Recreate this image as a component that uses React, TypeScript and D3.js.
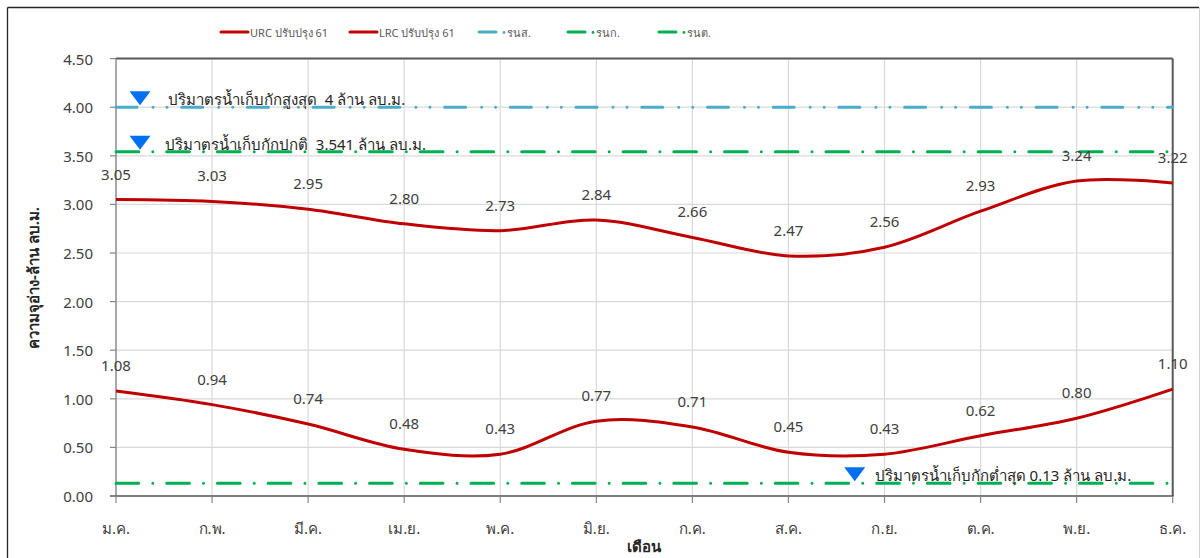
import React from "react";
import * as d3 from "d3";

const months = ["ม.ค.", "ก.พ.", "มี.ค.", "เม.ย.", "พ.ค.", "มิ.ย.", "ก.ค.", "ส.ค.", "ก.ย.", "ต.ค.", "พ.ย.", "ธ.ค."];
const urc = [3.05, 3.03, 2.95, 2.8, 2.73, 2.84, 2.66, 2.47, 2.56, 2.93, 3.24, 3.22];
const lrc = [1.08, 0.94, 0.74, 0.48, 0.43, 0.77, 0.71, 0.45, 0.43, 0.62, 0.8, 1.1];
const yTicks = [0, 0.5, 1, 1.5, 2, 2.5, 3, 3.5, 4, 4.5];
const maxLevel = 4;
const normalLevel = 3.541;
const minLevel = 0.13;
const legendLabels = ["URC ปรับปรุง 61", "LRC ปรับปรุง 61", "รนส.", "รนก.", "รนต."];
const annotations = [
  { value: maxLevel, text: "ปริมาตรน้ำเก็บกักสูงสุด  4 ล้าน ลบ.ม.", month: 0.25, gap: 28 },
  { value: normalLevel, text: "ปริมาตรน้ำเก็บกักปกติ  3.541 ล้าน ลบ.ม.", month: 0.25, gap: 25 },
  { value: minLevel, text: "ปริมาตรน้ำเก็บกักต่ำสุด 0.13 ล้าน ลบ.ม.", month: 7.69, gap: 20 },
];

const FONT = "Tahoma, 'Noto Sans', 'DejaVu Sans', sans-serif";

export default function App() {
  const left = 116, right = 1172.7, top = 58.6, bottom = 496;
  const x = d3.scaleLinear().domain([0, months.length - 1]).range([left, right]);
  const y = d3.scaleLinear().domain([0, 4.5]).range([bottom, top]);
  const line = d3
    .line<number>()
    .x((_, i) => x(i))
    .y((d) => y(d))
    .curve(d3.curveCatmullRom.alpha(0.5));

  const red = "#C00000";
  const blue = "#4BACC6";
  const green = "#00B050";
  const blueDash = "21 16 0.01 14 0.01 14.7";
  const greenDash = "22.7 14.1 0.01 13.9";

  const refLines = [
    { v: maxLevel, color: blue, dash: blueDash },
    { v: normalLevel, color: green, dash: greenDash },
    { v: minLevel, color: green, dash: greenDash },
  ];

  const legendItems = [
    { x: 221, color: red, type: "solid" },
    { x: 350, color: red, type: "solid" },
    { x: 479, color: blue, type: "dash" },
    { x: 568, color: green, type: "dash" },
    { x: 659, color: green, type: "dash" },
  ];

  return (
    <svg
      width={1200}
      height={558}
      style={{ position: "absolute", left: 0, top: 0, background: "#fff" }}
      fontFamily={FONT}
    >
      <rect x={0} y={0} width={1200} height={558} fill="#fff" />
      {/* outer frame */}
      <line x1={7.5} y1={7.5} x2={1199} y2={7.5} stroke="#262626" strokeWidth={1.3} />
      <line x1={7.5} y1={7.5} x2={7.5} y2={558} stroke="#262626" strokeWidth={1.3} />
      <line x1={1199.5} y1={7.5} x2={1199.5} y2={558} stroke="#d0d0d0" strokeWidth={1} />

      {/* gridlines */}
      {yTicks.map((t) => (
        <line key={"h" + t} x1={left} x2={right} y1={y(t)} y2={y(t)} stroke="#d9d9d9" strokeWidth={1.2} />
      ))}
      {months.map((m, i) => (
        <line key={"v" + i} x1={x(i)} x2={x(i)} y1={top} y2={bottom} stroke="#d9d9d9" strokeWidth={1.2} />
      ))}

      {/* plot border */}
      <line x1={left} x2={right} y1={top} y2={top} stroke="#595959" strokeWidth={2} />
      <line x1={right} x2={right} y1={top} y2={bottom} stroke="#595959" strokeWidth={2} />
      <line x1={left} x2={left} y1={top} y2={bottom + 0.5} stroke="#868686" strokeWidth={1.3} />
      <line x1={left - 6} x2={right + 1} y1={bottom} y2={bottom} stroke="#595959" strokeWidth={1.5} />

      {/* y ticks */}
      {yTicks.map((t) => (
        <g key={"yt" + t}>
          <line x1={left - 6} x2={left} y1={y(t)} y2={y(t)} stroke="#868686" strokeWidth={1.2} />
          <text x={93} y={y(t)} textAnchor="end" dominantBaseline="central" fontSize={15} fill="#404040">
            {d3.format(".2f")(t)}
          </text>
        </g>
      ))}
      {/* x ticks */}
      {months.map((m, i) => (
        <g key={"xt" + i}>
          <line x1={x(i)} x2={x(i)} y1={bottom} y2={bottom + 7} stroke="#868686" strokeWidth={1.2} />
          <text x={x(i)} y={528} textAnchor="middle" dominantBaseline="central" fontSize={15} fill="#404040">
            {m}
          </text>
        </g>
      ))}

      {/* reference lines */}
      {refLines.map((r, i) => (
        <line
          key={"r" + i}
          x1={left}
          x2={right}
          y1={y(r.v)}
          y2={y(r.v)}
          stroke={r.color}
          strokeWidth={3}
          strokeLinecap="round"
          strokeDasharray={r.dash}
        />
      ))}

      {/* series */}
      <path d={line(urc) || ""} fill="none" stroke={red} strokeWidth={3} />
      <path d={line(lrc) || ""} fill="none" stroke={red} strokeWidth={3} />

      {/* data labels */}
      {[urc, lrc].map((s, si) =>
        s.map((v, i) => (
          <text
            key={"l" + si + "-" + i}
            x={x(i)}
            y={y(v) - 26}
            textAnchor="middle"
            dominantBaseline="central"
            fontSize={15}
            fill="#404040"
          >
            {d3.format(".2f")(v)}
          </text>
        ))
      )}

      {/* annotations */}
      {annotations.map((a, i) => {
        const cx = x(a.month);
        const ty = y(a.value) - 2;
        return (
          <g key={"a" + i}>
            <path
              d={`M${cx - 10.5},${ty - 14} L${cx + 10.5},${ty - 14} L${cx},${ty} Z`}
              fill="#0070F0"
            />
            <text
              x={cx + a.gap}
              y={ty - 6}
              fontSize={15}
              fill="#262626"
              dominantBaseline="central"
              style={{ whiteSpace: "pre" }}
            >
              {a.text}
            </text>
          </g>
        );
      })}

      {/* legend */}
      {legendItems.map((it, i) => (
        <g key={"lg" + i}>
          <line
            x1={it.x}
            x2={it.type === "solid" ? it.x + 27 : it.x + 17}
            y1={32}
            y2={32}
            stroke={it.color}
            strokeWidth={3}
            strokeLinecap="round"
          />
          {it.type === "dash" && <circle cx={it.x + 25} cy={32.5} r={1.4} fill={it.color} />}
          <text
            x={it.type === "solid" ? it.x + 29 : it.x + 28}
            y={32}
            fontSize={11}
            fill="#595959"
            dominantBaseline="central"
          >
            {legendLabels[i]}
          </text>
        </g>
      ))}

      {/* axis titles */}
      <text
        transform={`translate(33, 278) rotate(-90)`}
        textAnchor="middle"
        dominantBaseline="central"
        fontSize={15}
        fontWeight="bold"
        fill="#262626"
      >
        ความจุอ่าง-ล้าน ลบ.ม.
      </text>
      <text x={644} y={546} textAnchor="middle" dominantBaseline="central" fontSize={15} fontWeight="bold" fill="#262626">
        เดือน
      </text>
    </svg>
  );
}
